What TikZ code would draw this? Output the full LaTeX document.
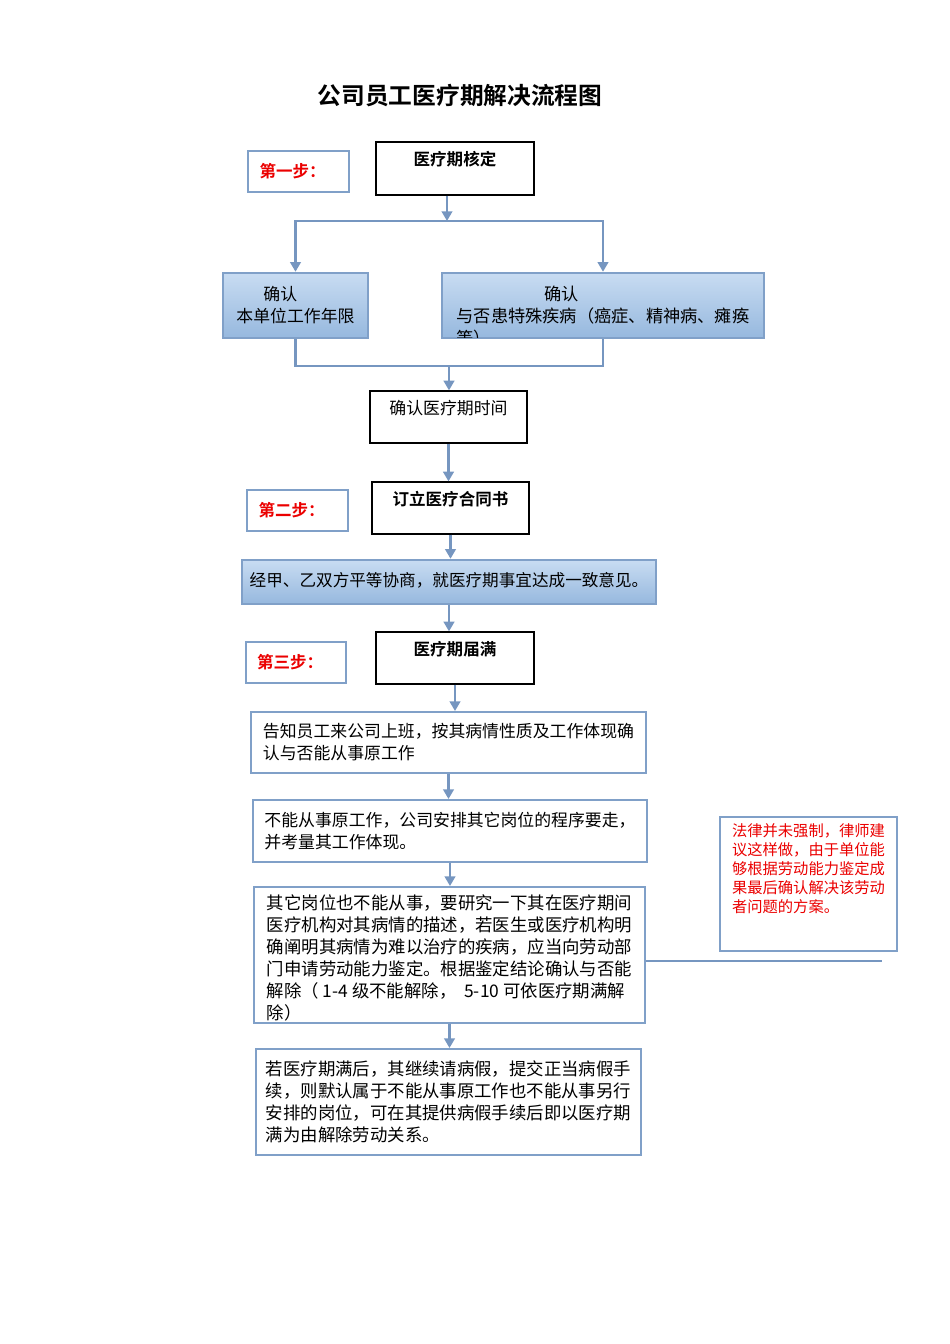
\documentclass[tikz,border=0pt]{standalone}
\usepackage{fontspec}
\setmainfont{Noto Sans CJK SC}[BoldFont={Noto Sans CJK SC Bold}]
\usetikzlibrary{positioning, arrows.meta}

\definecolor{flowblue}{RGB}{118,150,192}
\definecolor{edgeblue}{RGB}{128,160,200}
\definecolor{shadetop}{RGB}{200,220,242}
\definecolor{shadebot}{RGB}{150,184,222}
\definecolor{stepred}{RGB}{235,0,0}

\newcommand{\flowfont}{\fontsize{9.6}{12.5}\selectfont}
\newcommand{\widefont}{\fontsize{9.9}{12.5}\selectfont}
\newcommand{\headfont}{\bfseries\fontsize{9.4}{12}\selectfont}
\newcommand{\notefont}{\fontsize{8.7}{10.8}\selectfont}
\def\px{0.2mm}

\tikzset{
	plainbox/.style={draw=black, line width=0.7pt, fill=white},
	stepbox/.style={draw=edgeblue, line width=1.1pt, fill=white, text=stepred, font=\headfont},
	shadebox/.style={draw=edgeblue, line width=1.4pt, top color=shadetop, bottom color=shadebot, align=left},
	textbox/.style={draw=edgeblue, line width=1.1pt, fill=white, align=left},
	headtext/.style={anchor=north, inner sep=2mm},
	flowline/.style={draw=flowblue, line width=1.3pt},
	flowarrow/.style={flowline, -{Triangle[width=6pt,length=5.5pt]}},
}

\begin{document}
\begin{tikzpicture}[x=0.2mm, y=-0.2mm, font=\flowfont]
		\useasboundingbox (0,0) rectangle (950,1344);
		
		% --- Title ---
		\node[font=\bfseries\fontsize{13.5}{16}\selectfont] (title) at (460,96) {公司员工医疗期解决流程图};
		
		% --- Step 1 ---
		\node[stepbox, minimum width=101*\px, minimum height=41*\px] (step1) at (298.5,171.5) {第一步：\rule{0.7em}{0pt}};
		\node[plainbox, minimum width=158*\px, minimum height=53*\px,
			label={[headtext, font=\headfont]north:医疗期核定}] (check) at (455,168.5) {};
		
		\node[shadebox, minimum width=145*\px, minimum height=65*\px] (years) at (295.5,305.5)
			{\hspace*{1.6em}确认\\本单位工作年限};
		\node[shadebox, minimum width=322*\px, minimum height=65*\px, font=\fontsize{9.8}{12.5}\selectfont] (illness) at (603,305.5)
			{\hspace*{5.1em}确认\\与否患特殊疾病（癌症、精神病、瘫痪};
		\begin{scope}
			\clip ([yshift=0.8pt]illness.south west) rectangle (illness.north east);
			\node[anchor=west, inner sep=0pt] (illmore) at (456,338) {等）};
		\end{scope}
		
		\node[plainbox, minimum width=157*\px, minimum height=52*\px,
			label={[headtext]north:确认医疗期时间}] (period) at (448.5,417) {};
		
		% --- Step 2 ---
		\node[stepbox, minimum width=101*\px, minimum height=41*\px] (step2) at (297.5,510.5) {第二步：\rule{0.7em}{0pt}};
		\node[plainbox, minimum width=157*\px, minimum height=52*\px,
			label={[headtext, font=\headfont]north:订立医疗合同书}] (contract) at (450.5,508) {};
		\node[shadebox, minimum width=414*\px, minimum height=44*\px, font=\fontsize{9.45}{12}\selectfont] (agree) at (449,582)
			{经甲、乙双方平等协商，就医疗期事宜达成一致意见。\rule[-0.3em]{0pt}{0pt}};
		
		% --- Step 3 ---
		\node[stepbox, minimum width=100*\px, minimum height=41*\px] (step3) at (296,662.5) {第三步：\rule{0.7em}{0pt}};
		\node[plainbox, minimum width=158*\px, minimum height=52*\px,
			label={[headtext, font=\headfont]north:医疗期届满}] (expire) at (455,658) {};
		
		\node[textbox, minimum width=395*\px, minimum height=61*\px] (notify) at (448.5,742.5)
			{告知员工来公司上班，按其病情性质及工作体现确\\认与否能从事原工作};
		\node[textbox, minimum width=394*\px, minimum height=62*\px] (other) at (450,831)
			{不能从事原工作，公司安排其它岗位的程序要走，\\并考量其工作体现。};
		\node[textbox, minimum width=391*\px, minimum height=136*\px,
			label={[anchor=north, inner sep=1.7mm, align=left, font=\widefont]north:其它岗位也不能从事，要研究一下其在医疗期间\\医疗机构对其病情的描述，若医生或医疗机构明\\确阐明其病情为难以治疗的疾病，应当向劳动部\\门申请劳动能力鉴定。根据鉴定结论确认与否能\\解除（ 1-4 级不能解除，\ \ 5-10 可依医疗期满解\\除）}] (assess) at (449.5,955) {};
		\node[textbox, minimum width=385*\px, minimum height=106*\px, font=\widefont] (final) at (448.5,1102)
			{若医疗期满后，其继续请病假，提交正当病假手\\续，则默认属于不能从事原工作也不能从事另行\\安排的岗位，可在其提供病假手续后即以医疗期\\满为由解除劳动关系。};
		
		% Lawyer note
		\node[textbox, minimum width=177*\px, minimum height=134*\px,
			label={[anchor=north, inner sep=1.5mm, align=left, text=stepred, font=\notefont]north:法律并未强制，律师建\\议这样做，由于单位能\\够根据劳动能力鉴定成\\果最后确认解决该劳动\\者问题的方案。}] (note) at (808.5,884) {};
		
		% --- Connectors ---
		\coordinate (split) at (447,221);
		\coordinate (merge) at (449,366);
		\coordinate (noteend) at (882,961);
		\draw[flowarrow] (split |- check.south) -- (split);
		\draw[flowarrow] (split) -| (years.north);
		\draw[flowarrow] (split) -| (illness.north);
		\draw[flowline] (years.south) |- (merge) -| (illness.south);
		\draw[flowarrow] (merge) -- (merge |- period.north);
		\draw[flowarrow] (period.south) -- (period.south |- contract.north);
		\draw[flowarrow] (contract.south) -- (contract.south |- agree.north);
		\draw[flowarrow] (agree.south) -- (agree.south |- expire.north);
		\draw[flowarrow] (expire.south) -- (expire.south |- notify.north);
		\draw[flowarrow] (notify.south) -- (notify.south |- other.north);
		\draw[flowarrow] (other.south) -- (other.south |- assess.north);
		\draw[flowarrow] (assess.south) -- (assess.south |- final.north);
		\draw[flowline] (assess.east |- noteend) -- (noteend);
		
	\end{tikzpicture}
\end{document}
